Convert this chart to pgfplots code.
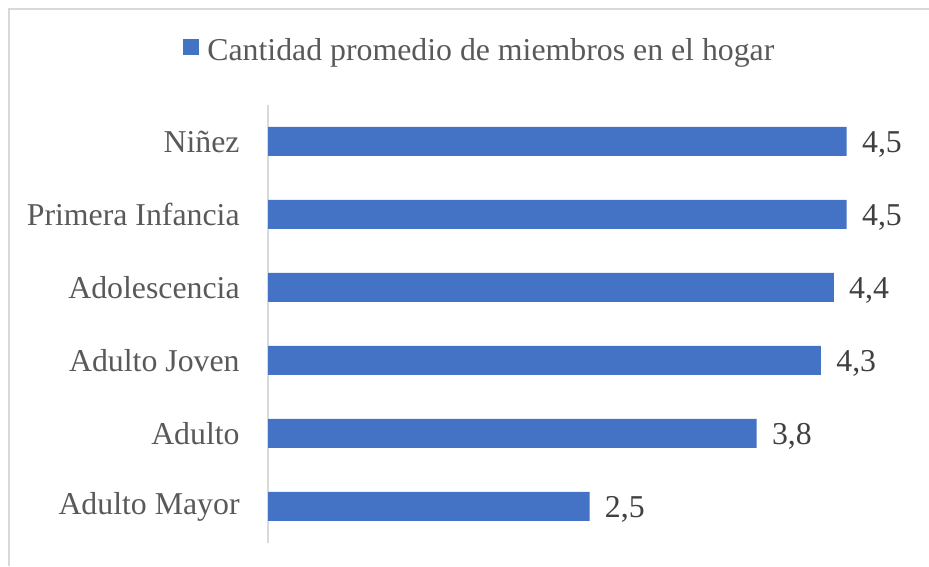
\documentclass[border=0pt]{standalone}
\usepackage{pgfplots}
\pgfplotsset{compat=1.18}
\usepackage{fontspec}
\setmainfont{Liberation Serif}
\definecolor{barblue}{HTML}{4472C4}
\definecolor{framegray}{HTML}{D9D9D9}
\definecolor{labgray}{HTML}{595959}
\definecolor{valgray}{HTML}{404040}

\begin{document}
\begin{tikzpicture}
\useasboundingbox (0,0) rectangle (464.5pt,283pt);
\draw[framegray, line width=1pt] (4.5pt,0) -- (4.5pt,278.25pt) -- (464.5pt,278.25pt);
\begin{axis}[
 at={(134pt,11.5pt)}, anchor=south west,
 scale only axis, width=321.5pt, height=219pt,
 xbar, bar width=14.5pt,
 xmin=0, xmax=5, ymin=-0.5, ymax=5.5,
 axis x line=none,
 axis y line=left, y axis line style={-, framegray, line width=0.75pt},
 ytick={0,...,5},
 yticklabels={Adulto Mayor,Adulto,Adulto Joven,Adolescencia,Primera Infancia,Niñez},
 major tick length=0pt,
 font=\fontsize{15.9}{19}\selectfont,
 yticklabel style={text=labgray, anchor=east, inner sep=0pt, xshift=-14pt},
 nodes near coords,
 nodes near coords style={text=valgray, anchor=west, inner sep=0pt, xshift=7.5pt, yshift=-1.5pt},
 /pgf/number format/.cd, fixed, fixed zerofill, precision=1, use comma, assume math mode=true,
 /pgfplots/.cd,
 legend style={at={(-0.1322,1.1233)}, anchor=west, draw=none, fill=none, inner sep=0pt,
   text=labgray, font=\fontsize{15.9}{19}\selectfont,
   nodes={inner sep=0pt},
   /tikz/every odd column/.append style={column sep=4pt}},
]
\addplot[fill=barblue, draw=none,
  legend image code/.code={\fill[barblue] (0pt,-2pt) rectangle (8pt,6pt);}]
  coordinates {(2.5,0) (3.8,1) (4.3,2) (4.4,3) (4.5,4) (4.5,5)};
\addlegendentry{Cantidad promedio de miembros en el hogar}
\end{axis}
\end{tikzpicture}
\end{document}
